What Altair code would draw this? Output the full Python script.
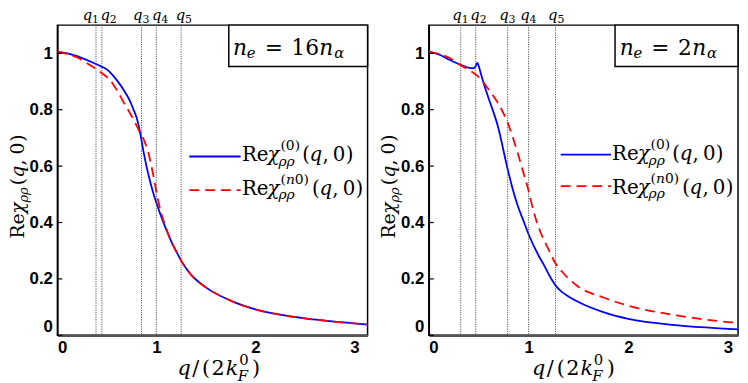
import altair as alt
import pandas as pd

# ---------------- data ----------------
# left panel  (n_e = 16 n_alpha)
q_left_chi0 = [0, 0.1, 0.2, 0.3, 0.39, 0.45, 0.5, 0.54, 0.6, 0.67, 0.72, 0.77, 0.8, 0.835,
               0.868, 0.9, 0.93, 0.96, 1.0, 1.05, 1.1, 1.15, 1.2, 1.25, 1.35, 1.5, 1.75,
               2.0, 2.25, 2.5, 2.75, 3.0, 3.14]
chi0_left = [1.005, 1.0, 0.99, 0.976, 0.962, 0.952, 0.943, 0.93, 0.905, 0.87, 0.84, 0.80,
             0.772, 0.72, 0.655, 0.6, 0.555, 0.515, 0.47, 0.42, 0.375, 0.333, 0.298, 0.265,
             0.215, 0.17, 0.123, 0.092, 0.073, 0.06, 0.05, 0.042, 0.038]
q_left_chin0 = [0, 0.1, 0.2, 0.3, 0.4, 0.5, 0.535, 0.6, 0.668, 0.72, 0.768, 0.835, 0.88,
                0.918, 0.968, 1.0, 1.035, 1.1, 1.15, 1.2, 1.25, 1.35, 1.5, 1.75, 2.0, 2.25,
                2.5, 2.75, 3.0, 3.14]
chin0_left = [1.005, 0.998, 0.985, 0.965, 0.942, 0.916, 0.904, 0.87, 0.827, 0.796, 0.766,
              0.719, 0.688, 0.649, 0.569, 0.509, 0.452, 0.378, 0.334, 0.298, 0.265, 0.215,
              0.17, 0.123, 0.092, 0.073, 0.06, 0.05, 0.042, 0.038]

# right panel (n_e = 2 n_alpha)
q_right_chi0 = [0, 0.1, 0.2, 0.3, 0.41, 0.45, 0.47, 0.487, 0.5, 0.52, 0.559, 0.6, 0.691,
                0.79, 0.84, 0.889, 0.95, 0.998, 1.1, 1.153, 1.22, 1.27, 1.33, 1.4, 1.5,
                1.75, 2.0, 2.5, 3.0, 3.1]
chi0_right = [1.005, 0.996, 0.978, 0.962, 0.948, 0.947, 0.955, 0.966, 0.955, 0.93, 0.883,
              0.84, 0.743, 0.59, 0.52, 0.462, 0.405, 0.36, 0.283, 0.25, 0.205, 0.177,
              0.155, 0.138, 0.118, 0.082, 0.058, 0.035, 0.023, 0.021]
q_right_chin0 = [0, 0.1, 0.2, 0.32, 0.4, 0.493, 0.6, 0.691, 0.79, 0.889, 0.95, 0.998, 1.05,
                 1.104, 1.2, 1.265, 1.35, 1.5, 1.75, 2.0, 2.5, 3.0, 3.1]
chin0_right = [1.005, 0.998, 0.985, 0.957, 0.942, 0.918, 0.872, 0.825, 0.754, 0.649, 0.575,
               0.515, 0.44, 0.38, 0.305, 0.258, 0.22, 0.172, 0.134, 0.105, 0.07, 0.047, 0.044]

q_marks_left = [0.39, 0.45, 0.85, 1.0, 1.25]
q_marks_right = [0.32, 0.47, 0.79, 1.0, 1.27]
q_mark_index = ["1", "2", "3", "4", "5"]
y_ticks = [0, 0.2, 0.4, 0.6, 0.8, 1.0]
x_ticks = [0, 1, 2, 3]
density_ratio = ["16", "2"]

# ---------------- style / layout ----------------
SERIF = "DejaVu Serif"
SANS = "Liberation Sans"
H = 314
BLUE = "#0000ff"
RED = "#ff0000"
DASH = [10, 6]
ONE = alt.Data(values=[{"k": 0}])


def piece(s, x, y, size, italic=False, angle=0):
    return alt.Chart(ONE).mark_text(
        text=s, font=SERIF, fontSize=size,
        fontStyle="italic" if italic else "normal",
        align="left", baseline="alphabetic", angle=angle, color="black",
    ).encode(x=alt.value(x), y=alt.value(y))


def legend_text(T, b, with_n):
    out = [
        piece("Re", T, b, 20),
        piece("χ", T + 26, b, 20, True),
        piece("ρρ", T + 37, b + 5, 14, True),
    ]
    sb = b - 11
    if with_n:
        out += [piece("(", T + 39, sb, 14), piece("n", T + 44.5, sb, 14, True),
                piece("0)", T + 53.5, sb, 14)]
        s = T + 71
    else:
        out += [piece("(0)", T + 39, sb, 14)]
        s = T + 61
    out += [
        piece("(", s, b, 20),
        piece("q", s + 7.5, b, 20, True),
        piece(",", s + 20.5, b, 20),
        piece("0", s + 31, b, 20),
        piece(")", s + 44, b, 20),
    ]
    return out


def panel(qb, yb, qr, yr, qm, qdx, W, xmax, ratio, box_x0, ne_x, leg, xt0):
    xs = alt.Scale(domain=[0, xmax], nice=False, zero=False)
    ys = alt.Scale(domain=[0, 1.1], nice=False, zero=False)
    X = alt.X("q:Q", scale=xs, axis=alt.Axis(values=x_ticks, format="~g", title=None))
    Y = alt.Y("v:Q", scale=ys, axis=alt.Axis(values=y_ticks, format="~g", title=None))

    blue = alt.Chart(pd.DataFrame({"q": qb, "v": yb})).mark_line(
        color=BLUE, strokeWidth=1.8, interpolate="monotone", clip=True
    ).encode(x=X, y=Y)
    red = alt.Chart(pd.DataFrame({"q": qr, "v": yr})).mark_line(
        color=RED, strokeWidth=1.8, strokeDash=DASH, interpolate="monotone", clip=True
    ).encode(x=X, y=Y)

    vl = alt.Chart(pd.DataFrame({"q": qm})).mark_rule(
        color="#444", strokeWidth=0.9, strokeDash=[1.2, 1.2]
    ).encode(x=X)

    ticks = alt.Chart(pd.DataFrame({"v": y_ticks})).mark_rule(
        color="black", strokeWidth=1.2
    ).encode(y=Y, x=alt.value(0), x2=alt.value(5))

    box = alt.Chart(ONE).mark_rect(
        fill="white", stroke="black", strokeWidth=1.5
    ).encode(x=alt.value(box_x0), x2=alt.value(W), y=alt.value(0), y2=alt.value(42))

    layers = [blue, vl, red, ticks, box]

    # n_e = N n_alpha
    nb = 29.8
    layers += [
        piece("n", ne_x, nb, 22, True),
        piece("e", ne_x + 14, nb + 3.7, 15, True),
        piece("=", ne_x + 32, nb, 22),
        piece(ratio, ne_x + 59, nb, 22),
    ]
    adv = 28.4 if len(ratio) == 2 else 14.5
    layers += [
        piece("n", ne_x + 59 + adv, nb, 22, True),
        piece("α", ne_x + 59 + adv + 15, nb + 3.7, 15, True),
    ]

    # q labels above the plot
    for qv, idx, d in zip(qm, q_mark_index, qdx):
        dfq = pd.DataFrame({"q": [qv]})
        layers.append(alt.Chart(dfq).mark_text(
            text="q", font=SERIF, fontStyle="italic", fontSize=15, align="left",
            baseline="alphabetic", dx=d - 8.5, color="black"
        ).encode(x=X, y=alt.value(-5)))
        layers.append(alt.Chart(dfq).mark_text(
            text=idx, font=SERIF, fontSize=11, align="left",
            baseline="alphabetic", dx=d + 1, color="black"
        ).encode(x=X, y=alt.value(-2)))

    # legend
    lx0, lx1, ly1, ly2, T, b1, b2 = leg
    layers += [
        alt.Chart(ONE).mark_rule(color=BLUE, strokeWidth=1.8).encode(
            x=alt.value(lx0), x2=alt.value(lx1), y=alt.value(ly1)),
        alt.Chart(ONE).mark_rule(color=RED, strokeWidth=1.8, strokeDash=DASH).encode(
            x=alt.value(lx0), x2=alt.value(lx1), y=alt.value(ly2)),
    ]
    layers += legend_text(T, b1, False)
    layers += legend_text(T, b2, True)

    # y title (rotated)
    XB, Y0 = -34, 216
    layers += [
        piece("Re", XB, Y0, 19, angle=270),
        piece("χ", XB, Y0 - 25, 19, True, angle=270),
        piece("ρρ", XB + 4, Y0 - 36.5, 13, True, angle=270),
        piece("(", XB, Y0 - 54, 19, angle=270),
        piece("q", XB, Y0 - 61.5, 19, True, angle=270),
        piece(",", XB, Y0 - 74, 19, angle=270),
        piece("0", XB, Y0 - 85, 19, angle=270),
        piece(")", XB, Y0 - 98, 19, angle=270),
    ]

    # x title q/(2k_F^0)
    B = 354
    layers += [
        piece("q", xt0, B, 21, True),
        piece("/", xt0 + 15, B, 21),
        piece("(", xt0 + 25, B, 21),
        piece("2", xt0 + 34.5, B, 21),
        piece("k", xt0 + 49, B, 21, True),
        piece("0", xt0 + 62.5, B - 10, 15),
        piece("F", xt0 + 61, B + 6, 15, True),
        piece(")", xt0 + 75.5, B, 21),
    ]

    return alt.layer(*layers).properties(width=W, height=H)


left = panel(q_left_chi0, chi0_left, q_left_chin0, chin0_left, q_marks_left,
             [-5, 7, 0, 4, 3], 314, 3.134, density_ratio[0], 173.5, 177.8,
             (133.5, 185.5, 133, 167, 186.8, 137.5, 171.5), 121.5)
right = panel(q_right_chi0, chi0_right, q_right_chin0, chin0_right, q_marks_right,
              [0, 3, 0, 0, 1], 313, 3.1, density_ratio[1], 188.5, 193.2,
              (133.5, 184.5, 131, 163, 185.5, 136.5, 170.5), 104.5)

chart = alt.hconcat(left, right, spacing=62, bounds="flush").properties(
    padding={"left": 0, "top": -3, "right": 0, "bottom": 0}
).configure_view(
    stroke="black", strokeWidth=1.5
).configure_axis(
    labelFont=SANS, labelFontWeight="bold", labelFontSize=17, labelColor="black",
    ticks=False, grid=False, domainColor="black", domainWidth=1.5, labelPadding=5,
).configure_axisX(
    domainColor="#555", domainWidth=2.5, labelPadding=4,
).configure_axisY(
    labelFlush=True,
)

chart.save("out.html", embed_options={"renderer": "svg", "actions": False})
